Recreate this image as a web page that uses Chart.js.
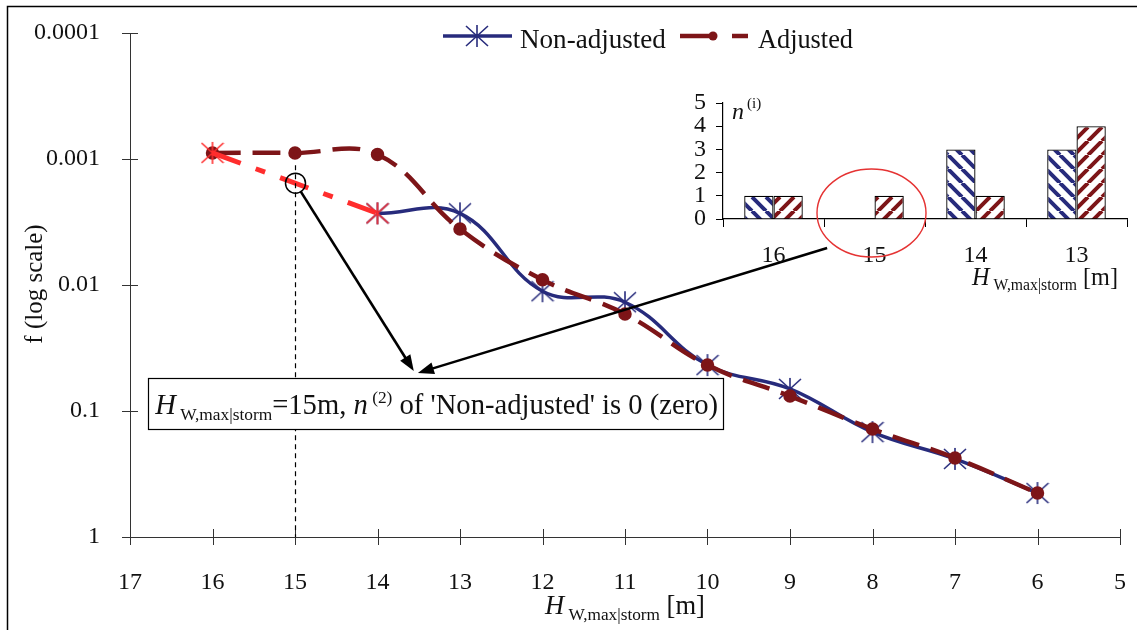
<!DOCTYPE html>
<html lang="en">
<head>
<meta charset="UTF-8">
<title>Frequency of storm wave height</title>
<script src="https://cdn.jsdelivr.net/npm/chart.js@4"></script>
<style>
  body { margin: 0; background: #fff; }
  #wrap { position: relative; width: 1137px; height: 630px; overflow: hidden; }
  #main { position: absolute; left: 0; top: 0; }
  #inset { position: absolute; left: 640px; top: 85px; }
</style>
</head>
<body>
<div id="wrap">
  <canvas id="main" width="1137" height="630"></canvas>
  <canvas id="inset" width="497" height="215"></canvas>
</div>
<script>
const SERIF = '"Liberation Serif", "Times New Roman", serif'
const BLUE = '#272b7c'
const DARK_RED = '#7d1518'
const RED = '#ff2d2d'

// main chart: H_W,max|storm [m] vs f
const xTicks = [17, 16, 15, 14, 13, 12, 11, 10, 9, 8, 7, 6, 5]
const yTicks = [0.0001, 0.001, 0.01, 0.1, 1]

const nonAdjH = [14, 13, 12, 11, 10, 9, 8, 7, 6]
const nonAdjF = [0.0027, 0.0027, 0.0112, 0.0137, 0.0432, 0.0668, 0.147, 0.240, 0.448]

const adjH = [16, 15, 14, 13, 12, 11, 10, 9, 8, 7, 6]
const adjF = [0.000895, 0.000895, 0.00092, 0.0036, 0.0091, 0.0170, 0.0432, 0.0761, 0.139, 0.236, 0.448]

// red part of the non-adjusted curve, across the empty 15 m class
const gapH = [16, 14]
const gapF = [0.000895, 0.0027]

// inset: number of storms per class
const binLabels = ['16', '15', '14', '13']
const nNonAdj = [1, 0, 3, 3]
const nAdj = [1, 1, 1, 4]
const nTicks = [0, 1, 2, 3, 4, 5]

function makeStar(color) {
  const c = document.createElement('canvas')
  c.width = 24; c.height = 24
  const g = c.getContext('2d')
  g.strokeStyle = color
  g.lineWidth = 1.6
  g.beginPath()
  g.moveTo(12, 1); g.lineTo(12, 23)
  g.moveTo(1, 2); g.lineTo(23, 22)
  g.moveTo(23, 2); g.lineTo(1, 22)
  g.stroke()
  return c
}

function makeHatch(ctx, color, slash) {
  const s = 14
  const c = document.createElement('canvas')
  c.width = s; c.height = s
  const g = c.getContext('2d')
  g.fillStyle = '#fff'
  g.fillRect(0, 0, s, s)
  g.strokeStyle = color
  g.lineWidth = 4
  g.beginPath()
  for (let k = -1; k <= 1; k++) {
    if (slash) { g.moveTo(k * s, s); g.lineTo(k * s + s, 0) }
    else { g.moveTo(k * s, 0); g.lineTo(k * s + s, s) }
  }
  g.stroke()
  return ctx.createPattern(c, 'repeat')
}

// text with sub/superscripts, optionally stretched to a width
function richWidth(ctx, segs, k) {
  let w = 0
  for (const s of segs) {
    ctx.font = (s.italic ? 'italic ' : '') + (s.size * k) + 'px ' + SERIF
    w += ctx.measureText(s.t).width
  }
  return w
}
function drawRich(ctx, segs, x, y, targetW, align) {
  const k = targetW ? targetW / richWidth(ctx, segs, 1) : 1
  const w = richWidth(ctx, segs, k)
  if (align === 'center') x -= w / 2
  if (align === 'right') x -= w
  ctx.textAlign = 'left'
  ctx.textBaseline = 'alphabetic'
  for (const s of segs) {
    ctx.font = (s.italic ? 'italic ' : '') + (s.size * k) + 'px ' + SERIF
    ctx.fillText(s.t, x, y + (s.dy || 0) * k)
    x += ctx.measureText(s.t).width
  }
}

function arrow(ctx, x0, y0, x1, y1) {
  const a = Math.atan2(y1 - y0, x1 - x0), L = 16, W = 6
  ctx.beginPath()
  ctx.moveTo(x0, y0)
  ctx.lineTo(x1 - (L - 2) * Math.cos(a), y1 - (L - 2) * Math.sin(a))
  ctx.stroke()
  ctx.beginPath()
  ctx.moveTo(x1, y1)
  ctx.lineTo(x1 - L * Math.cos(a) + W * Math.sin(a), y1 - L * Math.sin(a) - W * Math.cos(a))
  ctx.lineTo(x1 - L * Math.cos(a) - W * Math.sin(a), y1 - L * Math.sin(a) + W * Math.cos(a))
  ctx.closePath()
  ctx.fill()
}

const hTitle = size => [
  { t: 'H', size: size, italic: true },
  { t: ' W,max|storm', size: size * 0.65, dy: size * 0.22 },
  { t: ' [m]', size: size }
]

const blueStar = makeStar(BLUE)
const redStar = makeStar(RED)

const decor = {
  id: 'decor',
  afterDraw(chart) {
    const { ctx, scales: { x, y }, chartArea } = chart
    ctx.save()
    ctx.fillStyle = '#000'
    ctx.strokeStyle = '#000'

    // outer frame (left and top only are inside the picture)
    ctx.lineWidth = 1.5
    ctx.beginPath()
    ctx.moveTo(7.5, 630); ctx.lineTo(7.5, 6.5); ctx.lineTo(1137, 6.5)
    ctx.stroke()

    // tick marks crossing the axes
    ctx.lineWidth = 1
    ctx.strokeStyle = '#333'
    ctx.beginPath()
    for (const v of yTicks) {
      const py = Math.round(y.getPixelForValue(v)) + 0.5
      ctx.moveTo(chartArea.left - 8, py); ctx.lineTo(chartArea.left + 8, py)
    }
    for (const v of xTicks) {
      const px = Math.round(x.getPixelForValue(v)) + 0.5
      ctx.moveTo(px, chartArea.bottom - 8); ctx.lineTo(px, chartArea.bottom + 8)
    }
    ctx.stroke()

    // axis titles
    ctx.fillStyle = '#111'
    ctx.save()
    ctx.translate(35, 284)
    ctx.rotate(-Math.PI / 2)
    ctx.font = '25px ' + SERIF
    ctx.textAlign = 'center'
    ctx.textBaseline = 'middle'
    ctx.fillText('f (log scale)', 0, 0)
    ctx.restore()
    drawRich(ctx, hTitle(26), (chartArea.left + chartArea.right) / 2, 614, 160, 'center')

    // legend
    ctx.lineWidth = 3.5
    ctx.strokeStyle = BLUE
    ctx.beginPath(); ctx.moveTo(443, 36); ctx.lineTo(512, 36); ctx.stroke()
    ctx.drawImage(blueStar, 477 - 12, 36 - 12)
    drawRich(ctx, [{ t: 'Non-adjusted', size: 26 }], 520, 48, 146)
    ctx.strokeStyle = DARK_RED
    ctx.fillStyle = DARK_RED
    ctx.lineWidth = 4.5
    ctx.beginPath(); ctx.moveTo(680, 36); ctx.lineTo(713, 36); ctx.stroke()
    ctx.beginPath(); ctx.arc(713, 36, 4.5, 0, Math.PI * 2); ctx.fill()
    ctx.beginPath(); ctx.moveTo(732, 36); ctx.lineTo(748, 36); ctx.stroke()
    ctx.fillStyle = '#111'
    drawRich(ctx, [{ t: 'Adjusted', size: 26 }], 758, 48, 95)

    // dashed guide at 15 m and circle on the red segment
    const x15 = Math.round(x.getPixelForValue(15)) + 0.5
    const f15 = Math.sqrt(gapF[0] * gapF[1])
    const y15 = y.getPixelForValue(f15)
    ctx.strokeStyle = '#000'
    ctx.lineWidth = 1.2
    ctx.setLineDash([5, 4])
    ctx.beginPath(); ctx.moveTo(x15, y15 - 18); ctx.lineTo(x15, chartArea.bottom); ctx.stroke()
    ctx.setLineDash([])
    ctx.lineWidth = 1.5
    ctx.beginPath(); ctx.arc(x15, y15, 10, 0, Math.PI * 2); ctx.stroke()

    // arrows to the note
    ctx.lineWidth = 2.6
    ctx.fillStyle = '#000'
    const t1 = { x: x.getPixelForValue(13.56), y: y.getPixelForValue(0.0482) }
    const t2 = { x: x.getPixelForValue(13.51), y: y.getPixelForValue(0.0499) }
    const a1 = Math.atan2(t1.y - y15, t1.x - x15)
    arrow(ctx, x15 + 10 * Math.cos(a1), y15 + 10 * Math.sin(a1), t1.x, t1.y)
    arrow(ctx, x.getPixelForValue(8.55), y.getPixelForValue(0.00508), t2.x, t2.y)

    // note box
    const bl = x.getPixelForValue(16.78), br = x.getPixelForValue(9.81)
    const bt = y.getPixelForValue(0.0547), bb = y.getPixelForValue(0.139)
    ctx.fillStyle = '#fff'
    ctx.fillRect(bl, bt, br - bl, bb - bt)
    ctx.lineWidth = 1.2
    ctx.strokeRect(Math.round(bl) + 0.5, Math.round(bt) + 0.5, Math.round(br - bl), Math.round(bb - bt))
    ctx.fillStyle = '#111'
    drawRich(ctx, [
      { t: 'H', size: 28, italic: true },
      { t: ' W,max|storm', size: 17, dy: 6 },
      { t: '=15m, ', size: 28 },
      { t: 'n', size: 28, italic: true },
      { t: ' (2)', size: 17, dy: -11 },
      { t: " of 'Non-adjusted' is 0 (zero)", size: 28 }
    ], bl + 7, bb - 15, br - bl - 12)

    ctx.restore()
  }
}

new Chart(document.getElementById('main'), {
  type: 'line',
  data: {
    datasets: [
      {
        label: 'gap',
        data: gapH.map((h, i) => ({ x: h, y: gapF[i] })),
        borderColor: RED,
        borderWidth: 5,
        borderDash: [30, 16, 10, 16],
        tension: 0,
        pointStyle: redStar,
        pointRadius: 12,
        order: 0
      },
      {
        label: 'Adjusted',
        data: adjH.map((h, i) => ({ x: h, y: adjF[i] })),
        borderColor: DARK_RED,
        borderWidth: 4.5,
        borderDash: [28, 12],
        tension: 0.4,
        pointStyle: 'circle',
        pointRadius: 4.5,
        pointBackgroundColor: DARK_RED,
        pointBorderColor: DARK_RED,
        order: 1
      },
      {
        label: 'Non-adjusted',
        data: nonAdjH.map((h, i) => ({ x: h, y: nonAdjF[i] })),
        borderColor: BLUE,
        borderWidth: 3.5,
        tension: 0.4,
        pointStyle: blueStar,
        pointRadius: 12,
        order: 2
      }
    ]
  },
  options: {
    responsive: false,
    animation: false,
    devicePixelRatio: 1,
    layout: { padding: { left: 0, right: 10, top: 33, bottom: 0 } },
    plugins: { legend: { display: false }, tooltip: { enabled: false } },
    scales: {
      x: {
        type: 'linear',
        reverse: true,
        min: 5,
        max: 17,
        afterBuildTicks: s => { s.ticks = xTicks.map(v => ({ value: v })) },
        afterFit: s => { s.height = 93; s.paddingLeft = 0; s.paddingRight = 0 },
        grid: { display: false, drawTicks: false },
        border: { display: true, color: '#333', width: 1 },
        ticks: { font: { family: SERIF, size: 24 }, color: '#111', padding: 31, maxRotation: 0, autoSkip: false }
      },
      y: {
        type: 'logarithmic',
        reverse: true,
        min: 0.0001,
        max: 1,
        afterBuildTicks: s => { s.ticks = yTicks.map(v => ({ value: v })) },
        afterFit: s => { s.width = 130; s.paddingTop = 0; s.paddingBottom = 0 },
        grid: { display: false, drawTicks: false },
        border: { display: true, color: '#333', width: 1 },
        ticks: { callback: v => String(v), font: { family: SERIF, size: 24 }, color: '#111', padding: 30, autoSkip: false }
      }
    }
  },
  plugins: [decor]
})

// inset bar chart
const insetCanvas = document.getElementById('inset')
const ictx = insetCanvas.getContext('2d')
const blueHatch = makeHatch(ictx, BLUE, false)
const redHatch = makeHatch(ictx, DARK_RED, true)

const insetDecor = {
  id: 'insetDecor',
  afterDraw(chart) {
    const { ctx, scales: { x, y } } = chart
    ctx.save()
    ctx.fillStyle = '#111'
    drawRich(ctx, [{ t: 'n', size: 24, italic: true }], 92, 34)
    drawRich(ctx, [{ t: '(i)', size: 15 }], 107, 23)
    drawRich(ctx, hTitle(24), 478, 200, 146, 'right')
    // red ellipse around the empty class
    ctx.strokeStyle = '#e53333'
    ctx.lineWidth = 1.4
    ctx.beginPath()
    ctx.ellipse(x.getPixelForValue(1) - 3, y.getPixelForValue(0) - 6, 54.5, 44, 0, 0, Math.PI * 2)
    ctx.stroke()
    ctx.restore()
  }
}

new Chart(insetCanvas, {
  type: 'bar',
  data: {
    labels: binLabels,
    datasets: [
      { label: 'Non-adjusted', data: nNonAdj, backgroundColor: blueHatch, borderColor: '#000', borderWidth: 1.3, borderSkipped: 'bottom', barPercentage: 1, categoryPercentage: 0.58 },
      { label: 'Adjusted', data: nAdj, backgroundColor: redHatch, borderColor: '#000', borderWidth: 1.3, borderSkipped: 'bottom', barPercentage: 1, categoryPercentage: 0.58 }
    ]
  },
  options: {
    responsive: false,
    animation: false,
    devicePixelRatio: 1,
    layout: { padding: { left: 0, right: 10, top: 18, bottom: 0 } },
    plugins: { legend: { display: false }, tooltip: { enabled: false } },
    scales: {
      x: {
        afterFit: s => { s.height = 81; s.paddingLeft = 0; s.paddingRight = 0 },
        grid: { offset: true, drawOnChartArea: false, drawTicks: true, tickLength: 8, color: '#000' },
        border: { display: true, color: '#000', width: 1.2 },
        ticks: { font: { family: SERIF, size: 24 }, color: '#111', padding: 14, maxRotation: 0, autoSkip: false }
      },
      y: {
        min: 0,
        max: 5,
        afterBuildTicks: s => { s.ticks = nTicks.map(v => ({ value: v })) },
        afterFit: s => { s.width = 83; s.paddingTop = 0; s.paddingBottom = 0 },
        grid: { drawOnChartArea: false, drawTicks: true, tickLength: 7, color: '#000' },
        border: { display: true, color: '#000', width: 1.2 },
        ticks: { font: { family: SERIF, size: 24 }, color: '#111', padding: 10, autoSkip: false }
      }
    }
  },
  plugins: [insetDecor]
})
</script>
</body>
</html>
